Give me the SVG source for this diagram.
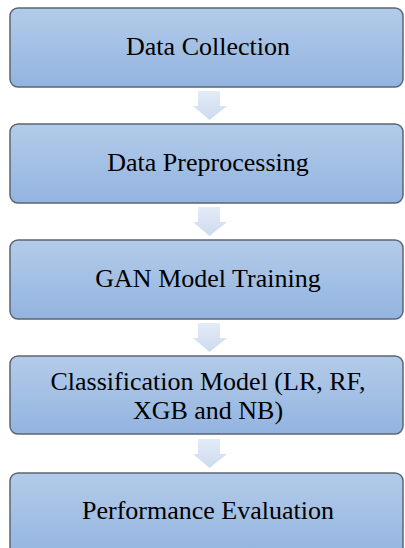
<svg xmlns="http://www.w3.org/2000/svg" width="405" height="548" viewBox="0 0 405 548">
<defs>
<linearGradient id="bg" x1="0" y1="0" x2="0" y2="1">
<stop offset="0" stop-color="#b3cbe9"/>
<stop offset="1" stop-color="#93b4e0"/>
</linearGradient>
<linearGradient id="ag" x1="0" y1="0" x2="0" y2="1">
<stop offset="0" stop-color="#e3ebf6"/>
<stop offset="1" stop-color="#cddbf0"/>
</linearGradient>
</defs>
<style>
.box{fill:url(#bg);stroke:#5b6672;stroke-width:1.5}
.lbl{font-family:"Liberation Serif","Times New Roman",serif;font-size:26px;fill:#000;text-anchor:middle}
.arr{fill:url(#ag)}
</style>
<rect width="405" height="548" fill="#fff"/>
<g id="connectors">
<path class="arr" d="M198,91 H220 V106 H227 L209.5,120 L193,106 H198 Z"/>
<path class="arr" d="M198,207 H220 V222 H227 L209.5,236 L193,222 H198 Z"/>
<path class="arr" d="M198,323 H220 V338 H227 L209.5,352 L193,338 H198 Z"/>
<path class="arr" d="M198,439 H220 V454 H227 L209.5,468 L193,454 H198 Z"/>
</g>
<g id="n1"><rect class="box" x="10" y="8" width="393" height="79" rx="8"/><text class="lbl" x="208" y="55">Data Collection</text></g>
<g id="n2"><rect class="box" x="10" y="124" width="393" height="79" rx="8"/><text class="lbl" x="208" y="171">Data Preprocessing</text></g>
<g id="n3"><rect class="box" x="10" y="240" width="393" height="79" rx="8"/><text class="lbl" x="208" y="287">GAN Model Training</text></g>
<g id="n4"><rect class="box" x="10" y="356" width="393" height="78" rx="8"/><text class="lbl" x="208" y="390">Classification Model (LR, RF,</text><text class="lbl" x="208" y="419">XGB and NB)</text></g>
<g id="n5"><rect class="box" x="10" y="473" width="393" height="85" rx="8"/><text class="lbl" x="208" y="519">Performance Evaluation</text></g>
</svg>
